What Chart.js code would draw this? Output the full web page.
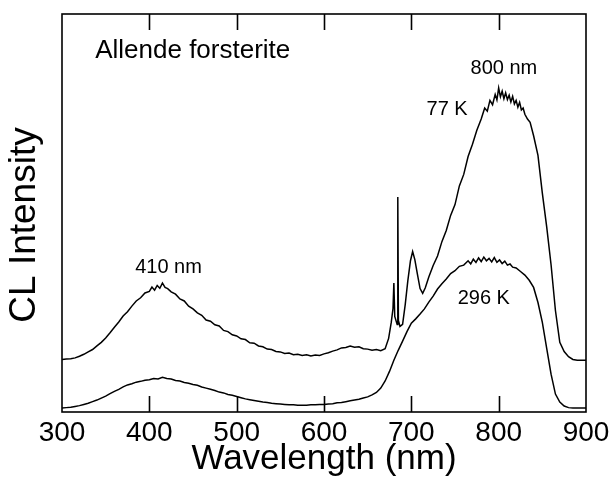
<!DOCTYPE html>
<html>
<head>
<meta charset="utf-8">
<script src="https://cdn.jsdelivr.net/npm/chart.js@4"></script>
<style>
  body { margin: 0; background: #fff; }
  #chart { display: block; }
</style>
</head>
<body>
<canvas id="chart" width="610" height="480"></canvas>
<script>
// wavelength (nm) and relative CL intensity
const wl77 = [300,305,310,315,320,325,330,335,340,345,350,355,360,365,370,375,380,385,390,395,
  400,403,406,409,412,415,418,421,425,430,435,440,445,450,455,460,465,470,475,480,485,490,495,
  500,505,510,515,520,525,530,535,540,545,550,555,560,565,570,575,580,585,590,595,600,605,610,
  615,620,625,630,635,640,645,650,655,660,665,670,674,677,679,680,681,683.8,684.5,685.2,687,690,
  693,696,699,701.5,704,707,710,713,716,720,725,730,735,740,745,750,755,760,765,770,775,780,784,
  787,790,793,796,798,800,802,804,806,808,810,812,814,816,818,820,822,824,826,828,830,833,836,
  840,845,850,855,860,865,870,875,880,885,890,895,900];
const int77 = [13.2,13.3,13.4,13.6,14.0,14.5,15.1,15.7,16.6,17.5,18.6,19.9,21.3,22.6,24.1,25.2,26.6,27.9,28.7,29.9,
  30.3,31.4,30.6,31.8,31.1,32.4,31.3,31.0,30.2,29.6,28.4,27.9,26.6,25.9,24.9,24.3,23.1,22.8,21.9,21.6,20.5,20.2,19.4,
  19.1,18.4,18.2,17.4,17.3,16.6,16.4,15.8,15.7,15.2,15.1,14.7,14.8,14.4,14.5,14.2,14.4,14.1,14.3,14.2,14.6,14.9,15.3,
  15.6,16.1,16.2,16.6,16.3,16.4,15.9,15.8,15.5,15.7,15.4,15.9,18.5,22.5,26.0,32.4,24.0,22.0,54.0,23.0,21.5,22.0,
  27.0,33.0,38.0,40.3,38.3,34.6,31.0,29.8,31.2,33.9,36.8,39.2,42.8,45.6,49.4,52.1,56.8,59.7,64.2,67.3,70.8,73.6,76.4,
  75.6,78.3,77.2,79.8,78.4,81.4,79.2,80.6,78.7,80.2,78.5,79.6,77.9,79.3,77.4,78.3,76.6,77.8,75.9,76.4,74.8,73.6,72.8,
  69.4,64.5,55.0,46.5,37.0,25.5,17.5,15.2,13.9,13.2,13.0,13.0,13.0];

const wl296 = [300,305,310,315,320,325,330,335,340,345,350,355,360,365,370,375,380,385,390,395,
  400,405,410,415,420,425,430,435,440,445,450,455,460,465,470,475,480,485,490,495,
  500,505,510,515,520,525,530,535,540,545,550,555,560,565,570,575,580,585,590,595,
  600,605,610,615,620,625,630,635,640,645,650,655,660,665,670,675,680,685,690,695,
  700,705,710,715,720,725,730,735,740,745,750,755,760,765,768,771,774,777,780,783,786,789,
  792,795,798,801,804,807,810,813,816,820,825,830,835,840,845,850,855,860,865,870,875,880,
  885,890,895,900];
const int296 = [1.0,1.1,1.2,1.4,1.6,1.9,2.2,2.6,3.0,3.5,4.0,4.6,5.2,5.7,6.3,6.8,7.1,7.5,7.7,8.0,
  8.1,8.4,8.3,8.7,8.4,8.3,7.9,7.8,7.4,7.2,6.9,6.7,6.3,6.0,5.7,5.4,5.0,4.8,4.4,4.2,
  3.9,3.6,3.3,3.1,2.9,2.7,2.5,2.4,2.2,2.1,2.0,1.9,1.8,1.8,1.7,1.7,1.7,1.8,1.8,1.9,
  1.9,2.0,2.1,2.3,2.4,2.6,2.8,3.0,3.2,3.5,3.8,4.3,4.9,6.0,7.8,10.2,13.0,15.5,17.8,20.2,
  22.3,23.4,24.6,25.9,27.6,29.1,30.9,32.2,33.4,34.8,35.5,36.6,36.9,38.0,37.2,38.4,37.6,38.7,37.8,38.9,38.0,38.6,
  37.7,38.8,37.6,38.2,37.3,37.9,36.9,37.2,36.4,36.2,35.3,34.4,33.1,31.3,27.5,22.5,16.0,9.5,4.5,2.5,1.5,1.1,
  1.0,1.0,1.0,1.0];

const xTicks = [300, 400, 500, 600, 700, 800, 900];

const notes = [
  { text: "Allende forsterite", x: 338, y: 90.7, size: 26, align: "left" },
  { text: "800 nm", x: 806, y: 86.2, size: 20, align: "center" },
  { text: "77 K", x: 741, y: 76.1, size: 20, align: "center" },
  { text: "410 nm", x: 422, y: 36.4, size: 20, align: "center" },
  { text: "296 K", x: 783, y: 28.6, size: 20, align: "center" },
];

const FONT = "'Liberation Sans', Arial, Helvetica, sans-serif";

function toPoints(xs, ys) {
  return xs.map((x, i) => ({ x, y: ys[i] }));
}

const framePlugin = {
  id: "frame",
  afterDatasetsDraw(chart) {
    const { ctx, chartArea: a, scales: { x, y } } = chart;
    ctx.save();
    ctx.strokeStyle = "#000";
    ctx.lineWidth = 1.6;
    ctx.strokeRect(a.left, a.top, a.right - a.left, a.bottom - a.top);
    ctx.beginPath();
    xTicks.forEach(v => {
      if (v <= x.min || v >= x.max) return;
      const px = Math.round(x.getPixelForValue(v)) + 0.5;
      ctx.moveTo(px, a.top);
      ctx.lineTo(px, a.top + 16);
      ctx.moveTo(px, a.bottom);
      ctx.lineTo(px, a.bottom - 16);
    });
    ctx.stroke();

    ctx.fillStyle = "#000";
    ctx.textBaseline = "middle";
    notes.forEach(n => {
      ctx.font = `${n.size}px ${FONT}`;
      ctx.textAlign = n.align;
      ctx.fillText(n.text, x.getPixelForValue(n.x), y.getPixelForValue(n.y));
    });

    // y-axis title, placed a little below centre as in the figure
    ctx.save();
    ctx.translate(25, (a.top + a.bottom) / 2 + 12);
    ctx.rotate(-Math.PI / 2);
    ctx.textAlign = "center";
    ctx.font = `37px ${FONT}`;
    ctx.fillText("CL Intensity", 0, 0);
    ctx.restore();
    ctx.restore();
  },
};

new Chart(document.getElementById("chart"), {
  type: "line",
  data: {
    datasets: [
      { label: "77 K", data: toPoints(wl77, int77) },
      { label: "296 K", data: toPoints(wl296, int296) },
    ],
  },
  options: {
    responsive: false,
    animation: false,
    devicePixelRatio: 1,
    layout: { padding: { top: 14, right: 24, left: 0, bottom: 0 } },
    elements: {
      line: { borderColor: "#000", borderWidth: 1.5, tension: 0 },
      point: { radius: 0 },
    },
    plugins: { legend: { display: false }, tooltip: { enabled: false } },
    scales: {
      x: {
        type: "linear",
        min: 300,
        max: 900,
        afterBuildTicks: scale => { scale.ticks = xTicks.map(v => ({ value: v })); },
        afterFit: scale => {
          scale.height = 68;
          scale.paddingRight = 0;
          scale.paddingLeft = 0;
        },
        grid: { display: false, drawTicks: false },
        border: { display: false },
        ticks: { color: "#000", font: { family: FONT, size: 28 }, padding: 4, maxRotation: 0 },
        title: {
          display: true,
          text: "Wavelength (nm)",
          color: "#000",
          font: { family: FONT, size: 35 },
          padding: { top: 0, bottom: 0 },
        },
      },
      y: {
        min: 0,
        max: 100,
        afterFit: scale => { scale.width = 62; },
        grid: { display: false, drawTicks: false },
        border: { display: false },
        ticks: { display: false },
        title: { display: false },
      },
    },
  },
  plugins: [framePlugin],
});
</script>
</body>
</html>
